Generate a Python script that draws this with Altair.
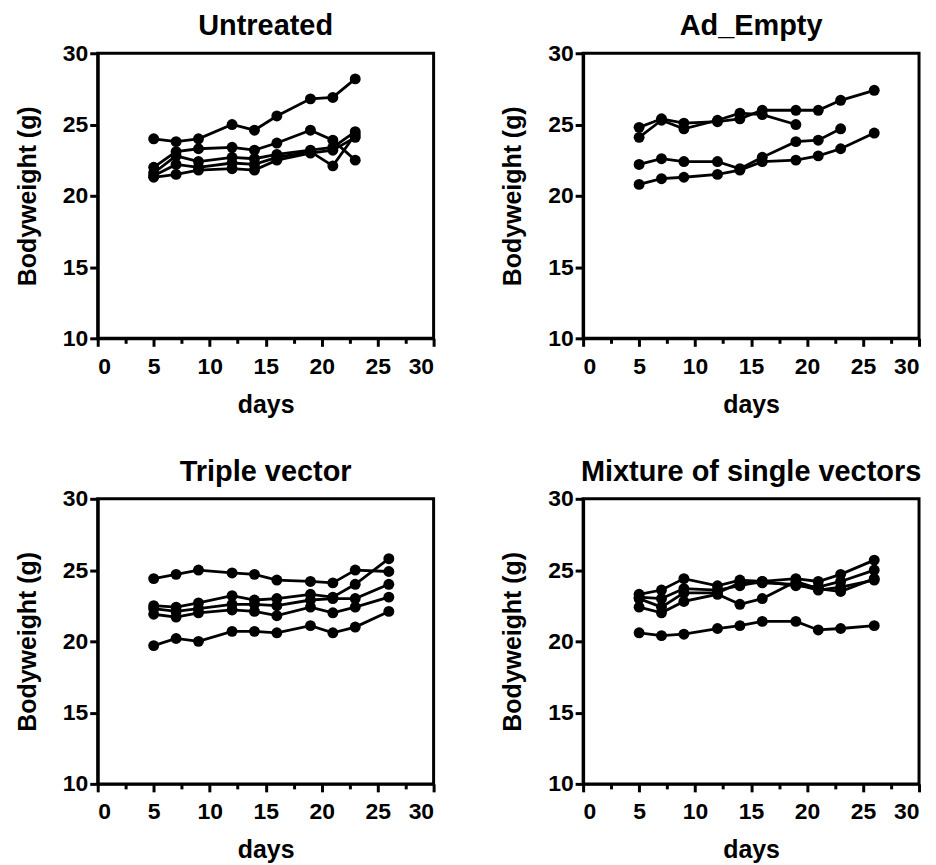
import altair as alt
import pandas as pd

FONT = "Liberation Sans"

days_untreated = [5, 7, 9, 12, 14, 16, 19, 21, 23]
days_long = [5, 7, 9, 12, 14, 16, 19, 21, 23, 26]

# Untreated
U1 = [24.0, 23.8, 24.0, 25.0, 24.6, 25.6, 26.8, 26.9, 28.2]
U2 = [22.0, 23.1, 23.3, 23.4, 23.2, 23.7, 24.6, 23.9, 22.5]
U3 = [21.6, 22.8, 22.4, 22.7, 22.6, 22.9, 23.2, 23.4, 24.5]
U4 = [21.4, 22.2, 22.0, 22.3, 22.2, 22.7, 23.1, 22.1, 24.3]
U5 = [21.3, 21.5, 21.8, 21.9, 21.8, 22.5, 23.0, 23.2, 24.1]

# Ad_Empty
A1 = [24.8, 25.4, 25.1, 25.2, 25.4, 26.0, 26.0, 26.0, 26.7, 27.4]
A2 = [24.1, 25.3, 24.7, 25.3, 25.8, 25.7, 25.0]
A3 = [22.2, 22.6, 22.4, 22.4, 21.9, 22.7, 23.8, 23.9, 24.7]
A4 = [20.8, 21.2, 21.3, 21.5, 21.8, 22.4, 22.5, 22.8, 23.3, 24.4]

# Triple vector
T1 = [24.4, 24.7, 25.0, 24.8, 24.7, 24.3, 24.2, 24.1, 25.0, 24.9]
T2 = [22.5, 22.4, 22.7, 23.2, 22.9, 23.0, 23.3, 23.1, 24.0, 25.8]
T3 = [22.3, 22.1, 22.3, 22.6, 22.6, 22.5, 22.9, 23.0, 23.0, 24.0]
T4 = [21.9, 21.7, 22.0, 22.2, 22.1, 21.8, 22.4, 22.0, 22.4, 23.1]
T5 = [19.7, 20.2, 20.0, 20.7, 20.7, 20.6, 21.1, 20.6, 21.0, 22.1]

# Mixture of single vectors
M1 = [23.3, 23.6, 24.4, 23.9, 24.3, 24.2, 24.4, 24.2, 24.7, 25.7]
M2 = [23.1, 23.0, 23.7, 23.6, 23.9, 24.2, 23.9, 23.8, 24.2, 25.0]
M3 = [22.4, 22.0, 22.8, 23.3, 22.6, 23.0, 24.2, 23.7, 23.5, 24.4]
M4 = [23.0, 22.4, 23.4, 23.4, 24.1, 24.1, 24.0, 23.6, 23.8, 24.3]
M5 = [20.6, 20.4, 20.5, 20.9, 21.1, 21.4, 21.4, 20.8, 20.9, 21.1]

panels = {
    "Untreated": (days_untreated, {"U1": U1, "U2": U2, "U3": U3, "U4": U4, "U5": U5}),
    "Ad_Empty": (days_long, {"A1": A1, "A2": A2, "A3": A3, "A4": A4}),
    "Triple vector": (days_long, {"T1": T1, "T2": T2, "T3": T3, "T4": T4, "T5": T5}),
    "Mixture of single vectors": (days_long, {"M1": M1, "M2": M2, "M3": M3, "M4": M4, "M5": M5}),
}

y_ticks = [10, 15, 20, 25, 30]
x_ticks = [0, 5, 10, 15, 20, 25, 30]
x_minor = [2.5, 7.5, 12.5, 17.5, 22.5, 27.5]

W, H = 337, 286


def make_panel(name):
    days, series = panels[name]
    rows = []
    for mouse, vals in series.items():
        for d, v in zip(days, vals):
            rows.append({"mouse": mouse, "day": d, "weight": v})
    df = pd.DataFrame(rows)
    xscale = alt.Scale(domain=[0, 30], nice=False, zero=False)
    yscale = alt.Scale(domain=[10, 30], nice=False, zero=False)
    yaxis = alt.Axis(values=y_ticks, title="Bodyweight (g)", grid=False,
                     tickSize=8, labelPadding=2, titlePadding=22)
    base = alt.Chart(df)
    line = base.mark_line(color="black", strokeWidth=2.8).encode(
        x=alt.X("day:Q", scale=xscale,
                axis=alt.Axis(values=x_ticks, title="days", grid=False, tickSize=8,
                              labelPadding=9, titlePadding=14, orient="bottom")),
        y=alt.Y("weight:Q", scale=yscale, axis=yaxis),
        detail="mouse:N",
        order="day:Q",
    )
    pts = base.mark_circle(color="black", opacity=1, size=120).encode(
        x=alt.X("day:Q", scale=xscale,
                axis=alt.Axis(values=x_minor, labels=False, domain=False, grid=False,
                              tickSize=5, title=None, orient="bottom")),
        y=alt.Y("weight:Q", scale=yscale, axis=yaxis),
    )
    return alt.layer(line, pts).resolve_axis(x="independent").properties(
        width=W, height=H, title=name
    )


row1 = alt.hconcat(make_panel("Untreated"), make_panel("Ad_Empty"), spacing=62)
row2 = alt.hconcat(make_panel("Triple vector"), make_panel("Mixture of single vectors"), spacing=62)
chart = alt.vconcat(row1, row2, spacing=37).properties(
    padding={"left": 5, "top": 1, "right": 5, "bottom": 2}
).configure_view(
    stroke="black", strokeWidth=3
).configure_axis(
    domainColor="black", domainWidth=3, tickColor="black", tickWidth=3,
    labelFont=FONT, labelFontSize=23, labelFontWeight="bold", labelColor="black",
    titleFont=FONT, titleFontSize=25, titleFontWeight="bold", titleColor="black",
).configure_title(
    font=FONT, fontSize=29, fontWeight="bold", color="black", anchor="middle", offset=1
)

chart.save("out.html", embed_options={"renderer": "svg", "actions": False})
